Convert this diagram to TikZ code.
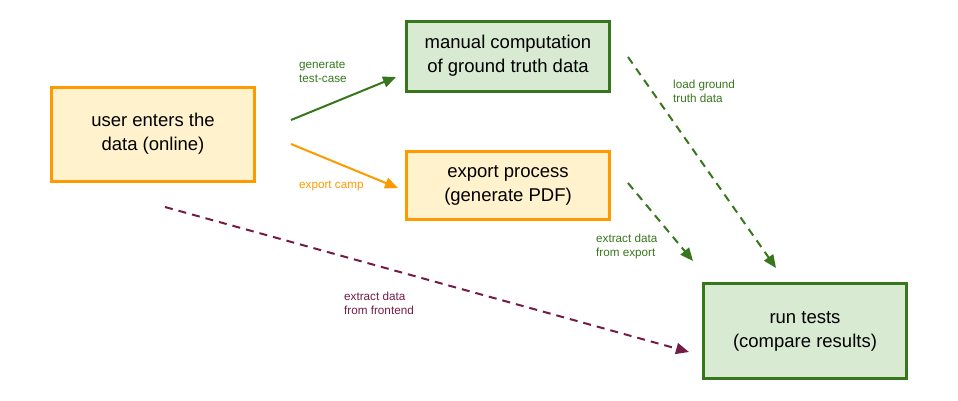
\documentclass[tikz,border=0pt]{standalone}
\usepackage{fontspec}
\setmainfont{Liberation Sans}
\usetikzlibrary{arrows.meta}
\definecolor{gborder}{HTML}{38761D}
\definecolor{gfill}{HTML}{D9EAD3}
\definecolor{oborder}{HTML}{FF9900}
\definecolor{ofill}{HTML}{FFF2CC}
\definecolor{purp}{HTML}{741B47}
\definecolor{glabel}{HTML}{38761D}
\tikzset{
  box/.style={draw, line width=3pt, minimum width=203pt, align=center,
    font=\fontsize{18.5}{24}\selectfont, inner sep=0pt},
  gbox/.style={box, draw=gborder, fill=gfill},
  obox/.style={box, draw=oborder, fill=ofill},
  lbl/.style={align=left, anchor=north west, font=\fontsize{11.7}{14}\selectfont, inner sep=0pt},
  conn/.style={line width=2pt, -{Triangle[length=13pt,width=11pt]}},
  dconn/.style={conn, dash pattern=on 8pt off 6pt},
}
\begin{document}
\begin{tikzpicture}[x=1pt,y=-1pt]
\useasboundingbox (0,0) rectangle (958,400);
\node[obox, minimum height=94pt] (user) at (153,134) {user enters the\\data (online)};
\node[gbox, minimum height=70pt] (manual) at (508,56) {manual computation\\of ground truth data};
\node[obox, minimum height=68pt] (export) at (508,185) {export process\\(generate PDF)};
\node[gbox, minimum height=95pt] (run) at (805,331) {run tests\\(compare results)};

\coordinate (a1s) at (291,120); \coordinate (a1e) at (396,77);
\coordinate (a2s) at (291,144); \coordinate (a2e) at (398,188);
\coordinate (a3s) at (165,207); \coordinate (a3e) at (689,352);
\coordinate (a4s) at (628,57);  \coordinate (a4e) at (776,268);
\coordinate (a5s) at (628,183); \coordinate (a5e) at (693,261);

\draw[conn, gborder] (a1s) -- (a1e);
\draw[conn, oborder] (a2s) -- (a2e);
\draw[dconn, purp] (a3s) -- (a3e);
\draw[dconn, gborder] (a4s) -- (a4e);
\draw[dconn, gborder] (a5s) -- (a5e);

\node[lbl, text=glabel] (l1) at (299,61) {generate\\test-case};
\node[lbl, text=oborder] (l2) at (299,181) {export camp};
\node[lbl, text=glabel] (l3) at (673,80) {load ground\\truth data};
\node[lbl, text=glabel] (l4) at (596,234) {extract data\\from export};
\node[lbl, text=purp] (l5) at (344,292) {extract data\\from frontend};
\end{tikzpicture}
\end{document}
